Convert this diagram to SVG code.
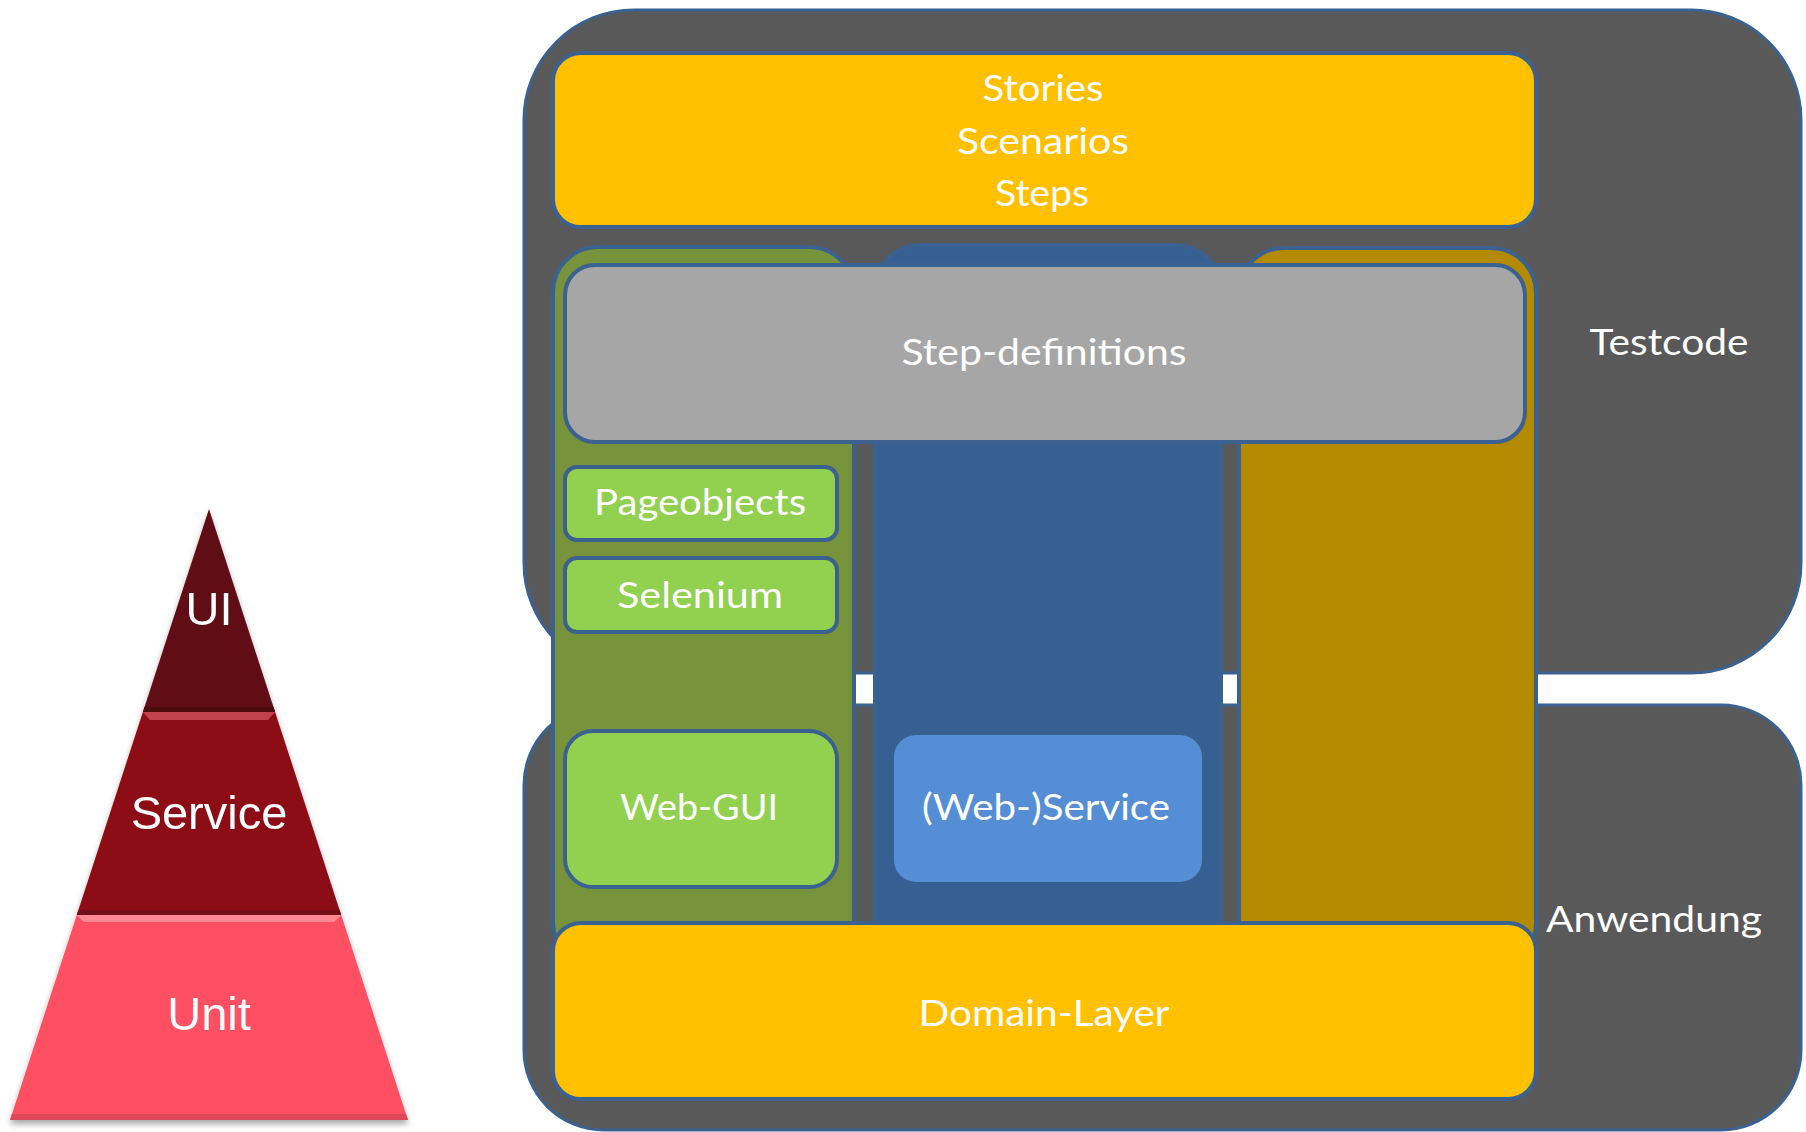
<svg xmlns="http://www.w3.org/2000/svg" width="1806" height="1132" viewBox="0 0 1806 1132">
  <defs>
    <filter id="pyrShadow" x="-10%" y="-10%" width="120%" height="125%">
      <feDropShadow dx="0" dy="4" stdDeviation="3" flood-color="#000" flood-opacity="0.35"/>
    </filter>
  </defs>
  <style>
    .frame { fill: #595959; stroke: #3b6190; stroke-width: 3; }
    .edge { stroke: #3b6190; stroke-width: 4; }
    .lbl { font-family: Lato, "Open Sans", "Liberation Sans", sans-serif; font-size: 36px; fill: #ffffff; text-anchor: middle; }
    .pyr { font-family: "Liberation Sans", Arial, sans-serif; font-size: 47px; fill: #ffffff; text-anchor: middle; }
  </style>

  <rect width="1806" height="1132" fill="#ffffff"/>

  <!-- test pyramid -->
  <g id="pyramid" filter="url(#pyrShadow)">
    <g id="layer-ui">
      <polygon points="209,509 275.1,712 142.9,712" fill="#600b13"/>
      <polygon points="144.5,707 273.5,707 275.1,712 142.9,712" fill="#4d0810"/>
      <text class="pyr" x="209" y="625">UI</text>
    </g>
    <g id="layer-service">
      <polygon points="142.9,712 275.1,712 341.2,915 76.8,915" fill="#8c0d19"/>
      <polygon points="142.9,712 275.1,712 268,720 150,720" fill="#c1434e"/>
      <polygon points="78.4,910 339.6,910 341.2,915 76.8,915" fill="#730a14"/>
      <text class="pyr" x="209" y="829">Service</text>
    </g>
    <g id="layer-unit">
      <polygon points="76.8,915 341.2,915 408,1120 10,1120" fill="#ff5062"/>
      <polygon points="76.8,915 341.2,915 334,922 84,922" fill="#ff8a96"/>
      <polygon points="12,1114 406,1114 408,1120 10,1120" fill="#de4655"/>
      <text class="pyr" x="209" y="1030">Unit</text>
    </g>
  </g>

  <!-- outer frames -->
  <g id="testcode">
    <rect class="frame" x="524" y="10" width="1277" height="663" rx="110" ry="110"/>
    <text class="lbl" x="1669" y="355" textLength="159" lengthAdjust="spacingAndGlyphs">Testcode</text>
  </g>
  <g id="anwendung">
    <rect class="frame" x="524" y="705" width="1277" height="425" rx="80" ry="80"/>
    <text class="lbl" x="1654" y="932" textLength="216" lengthAdjust="spacingAndGlyphs">Anwendung</text>
  </g>

  <!-- vertical columns -->
  <g id="column-web">
    <rect class="edge" x="553" y="247" width="301" height="720" rx="45" ry="45" fill="#77933c"/>
  </g>
  <g id="column-service">
    <rect class="edge" x="875" y="245" width="346" height="720" rx="45" ry="45" fill="#366092"/>
  </g>
  <g id="column-other">
    <rect class="edge" x="1239" y="248" width="297" height="720" rx="45" ry="45" fill="#b48a00"/>
  </g>

  <g id="stories">
    <rect class="edge" x="553" y="53" width="983" height="174" rx="28" ry="28" fill="#ffc000"/>
    <text class="lbl" x="1043" y="101" textLength="121" lengthAdjust="spacingAndGlyphs">Stories</text>
    <text class="lbl" x="1043" y="154" textLength="172" lengthAdjust="spacingAndGlyphs">Scenarios</text>
    <text class="lbl" x="1042" y="206" textLength="94" lengthAdjust="spacingAndGlyphs">Steps</text>
  </g>

  <g id="step-definitions">
    <rect class="edge" x="565" y="265" width="960" height="177" rx="30" ry="30" fill="#a6a6a6"/>
    <text class="lbl" x="1044" y="365" textLength="285" lengthAdjust="spacingAndGlyphs">Step-definitions</text>
  </g>

  <g id="pageobjects">
    <rect class="edge" x="565" y="467" width="272" height="73" rx="12" ry="12" fill="#92d050"/>
    <text class="lbl" x="700" y="515" textLength="212" lengthAdjust="spacingAndGlyphs">Pageobjects</text>
  </g>

  <g id="selenium">
    <rect class="edge" x="565" y="558" width="272" height="74" rx="12" ry="12" fill="#92d050"/>
    <text class="lbl" x="700" y="608" textLength="166" lengthAdjust="spacingAndGlyphs">Selenium</text>
  </g>

  <g id="web-gui">
    <rect class="edge" x="565" y="731" width="272" height="156" rx="28" ry="28" fill="#92d050"/>
    <text class="lbl" x="699" y="820" textLength="158" lengthAdjust="spacingAndGlyphs">Web-GUI</text>
  </g>

  <g id="web-service">
    <rect x="894" y="735" width="308" height="147" rx="22" ry="22" fill="#558ed5"/>
    <text class="lbl" x="1046" y="820" textLength="248" lengthAdjust="spacingAndGlyphs">(Web-)Service</text>
  </g>

  <g id="domain-layer">
    <rect class="edge" x="553" y="923" width="983" height="176" rx="28" ry="28" fill="#ffc000"/>
    <text class="lbl" x="1044" y="1026" textLength="251" lengthAdjust="spacingAndGlyphs">Domain-Layer</text>
  </g>

  <g id="connectors"/>
</svg>
